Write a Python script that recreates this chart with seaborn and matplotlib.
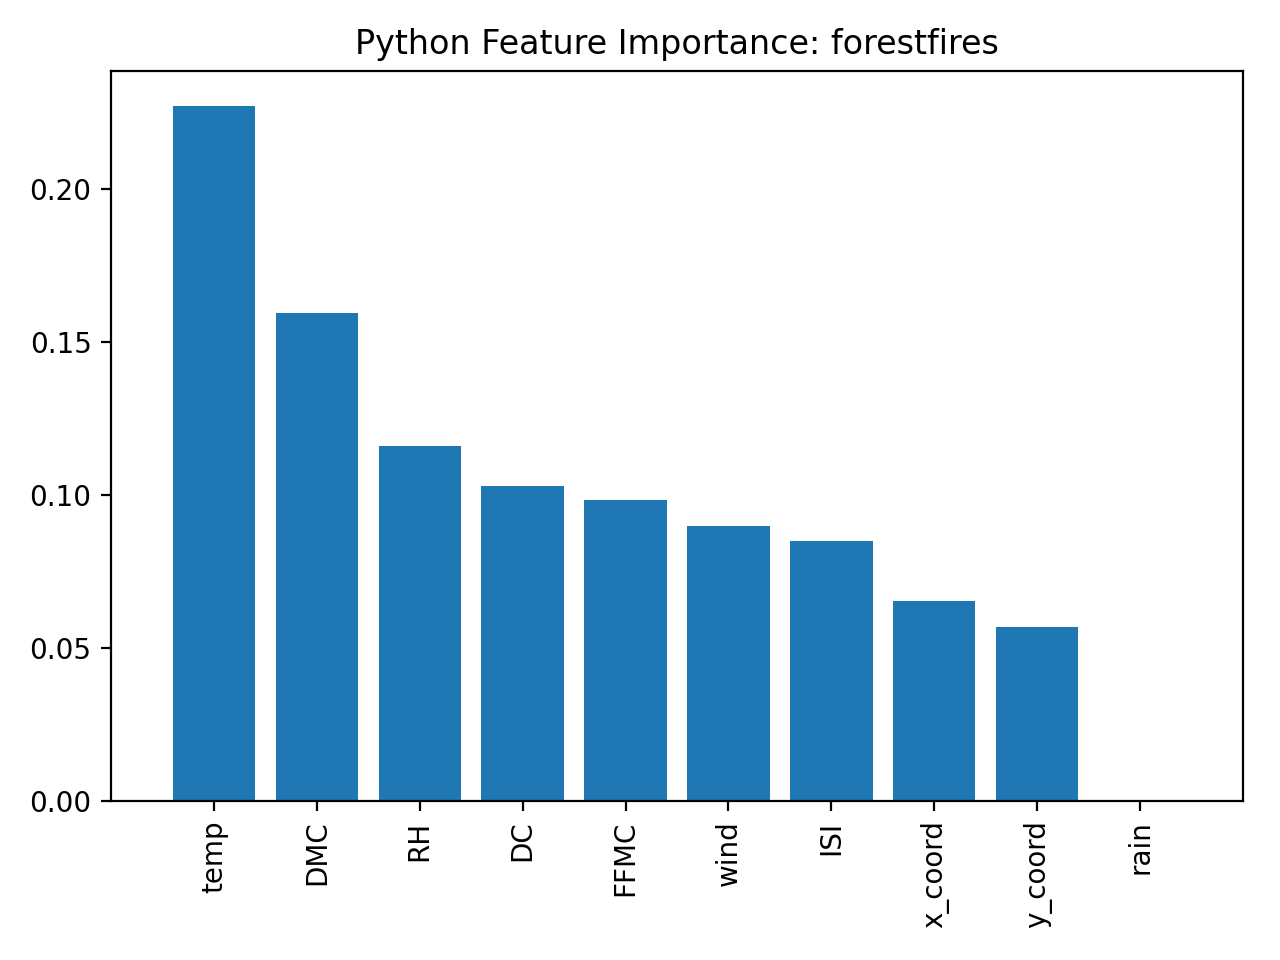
import matplotlib
matplotlib.use("Agg")
import matplotlib.pyplot as plt
import seaborn as sns
import pandas as pd

# feature importances
features = ['temp', 'DMC', 'RH', 'DC', 'FFMC', 'wind', 'ISI', 'x_coord', 'y_coord', 'rain']
importance = [0.2271, 0.1595, 0.1161, 0.1028, 0.0982, 0.0900, 0.0848, 0.0653, 0.0568, 0.0]

df = pd.DataFrame({'feature': features, 'importance': importance})

fig, ax = plt.subplots(figsize=(6.4, 4.8), dpi=200)
sns.barplot(data=df, x='feature', y='importance', color='#1f77b4',
            saturation=1, width=0.8, ax=ax)

ax.set_title('Python Feature Importance: forestfires')
ax.set_xlabel('')
ax.set_ylabel('')
ax.set_xlim(-1, len(features))
ax.set_ylim(0, max(importance) * 1.05)
plt.xticks(rotation=90)

fig.subplots_adjust(left=0.0867, right=0.9711, top=0.926, bottom=0.1656)
plt.savefig('out.png')
plt.close()
